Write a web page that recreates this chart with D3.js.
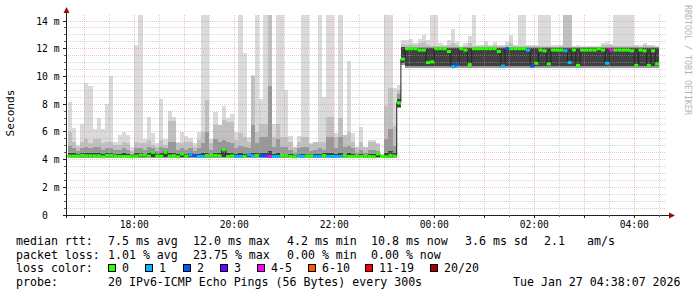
<!DOCTYPE html>
<html><head><meta charset="utf-8">
<script src="https://cdn.jsdelivr.net/npm/d3@7"></script>
<style>
body{margin:0;background:#fff}
svg text{font-family:"DejaVu Sans Mono",monospace;white-space:pre;fill:#000}
</style>
</head><body>
<svg id="chart" width="697" height="297"></svg>
<script>
// ---- data (5-minute RRD steps, first step starts 16:40) ----
const rangeStart = Date.UTC(2026,0,26,16,38,7);
const rangeEnd   = Date.UTC(2026,0,27,4,38,7);
const firstStep  = Date.UTC(2026,0,26,16,40,0);
const stepMs = 300000;

const median = [4.25,4.25,4.25,4.3,4.27,4.27,4.27,4.27,4.2,4.3,
 4.3,4.25,4.22,4.22,4.22,4.2,4.25,4.32,4.32,4.25,
 4.52,4.25,4.25,4.52,4.25,4.28,4.2,4.4,4.25,4.35,
 4.3,4.22,4.22,4.3,4.3,4.3,4.27,4.7,4.22,4.27,
 4.22,4.22,4.22,4.35,4.27,4.3,4.27,4.27,4.22,4.22,
 4.22,4.3,4.3,4.22,4.2,4.27,4.22,4.27,4.27,4.22,
 4.22,4.3,4.22,4.22,4.22,4.22,4.3,4.22,4.22,4.22,
 4.22,4.22,4.22,4.2,4.4,4.22,4.2,4.3,4.25,8.1,
 11.25,12.0,12.0,12.0,11.9,11.9,11.0,11.05,12.0,12.0,
 12.0,11.8,10.7,10.85,12.0,11.9,10.85,12.0,12.0,12.0,
 12.0,12.0,12.0,11.8,10.75,12.0,12.0,12.0,12.0,12.0,
 11.9,10.75,10.95,11.9,11.85,10.9,11.9,11.9,11.9,11.85,
 11.0,11.9,10.8,11.9,11.9,11.9,11.9,12.0,11.9,10.95,
 11.9,11.9,11.9,11.9,11.9,11.85,10.8,11.9,11.85,10.8,
 11.85,10.9];

const lossCount = [0,0,0,0,0,0,0,0,0,0,
 0,0,0,0,0,0,0,0,0,0,
 0,0,0,0,0,0,0,0,0,1,
 2,1,1,0,0,0,0,0,0,0,
 1,1,0,1,1,0,2,2,4,1,
 1,0,0,0,0,1,1,0,0,1,
 1,0,1,1,1,1,0,0,0,0,
 0,0,0,0,0,0,0,0,0,0,
 0,0,0,0,0,0,0,0,0,0,
 0,0,1,2,0,0,0,0,0,0,
 0,0,0,0,1,2,0,0,0,0,
 1,2,0,0,0,0,0,0,0,1,
 1,0,0,0,0,0,0,0,0,1,
 4,0,0,0,0,0,0,0,0,0,
 0,0];

const pingMax = [8.15,6.3,5.05,6.6,9.5,9.3,6.2,7.0,6.2,8.0,
 10.0,5.25,5.8,6.0,5.8,4.9,12.3,14.5,5.5,7.1,
 5.9,5.2,8.4,5.5,7.5,7.1,5.3,6.0,5.7,5.55,
 5.2,6.0,14.5,14.5,5.5,7.4,6.5,7.9,7.0,7.3,
 6.0,14.5,11.7,5.65,10.1,14.5,8.4,14.5,14.5,6.6,
 14.5,14.5,9.0,5.7,4.9,5.7,14.5,14.5,5.2,5.3,
 14.5,8.5,14.5,14.5,5.9,14.5,5.8,11.1,5.9,4.9,
 6.35,4.9,5.4,5.4,5.2,4.4,14.5,14.5,9.2,9.4,
 12.6,12.6,12.7,12.4,12.7,13.0,12.6,14.5,14.5,12.4,
 12.3,12.6,13.4,12.5,12.2,12.4,12.9,14.5,12.3,12.3,
 12.55,12.3,12.45,12.3,12.3,12.5,13.0,12.3,14.5,14.5,
 12.3,12.3,12.3,14.5,14.5,14.5,12.25,12.25,12.3,14.5,
 14.5,12.2,12.25,12.2,12.2,12.2,12.2,12.2,12.4,12.45,
 12.35,14.5,14.5,14.5,14.5,14.5,12.3,12.25,12.4,12.3,
 12.3,12.2];

const grayMid = [6.0,5.3,4.9,5.3,5.5,5.2,5.5,5.5,5.2,5.3,
 5.3,5.05,5.05,5.3,5.2,4.6,5.3,5.2,5.2,5.4,
 5.05,4.9,5.4,5.05,6.8,6.8,5.2,5.2,5.25,5.25,
 4.9,5.4,6.0,8.3,5.2,6.5,6.5,6.85,6.7,6.7,
 5.4,5.9,5.6,5.3,10.0,6.0,6.6,6.6,14.5,5.65,
 6.6,5.65,5.65,5.3,4.9,5.3,5.65,5.65,5.1,5.3,
 5.3,5.3,7.1,7.1,5.65,7.0,5.8,6.0,5.3,4.9,
 5.3,4.9,5.3,5.3,5.1,4.35,7.9,9.15,6.4,9.0,
 12.35,12.3,12.35,12.3,12.4,12.5,12.3,12.2,12.2,12.2,
 12.2,12.3,12.4,12.3,12.15,12.2,12.4,12.2,12.2,12.2,
 12.3,12.2,12.3,12.2,12.2,12.3,12.4,12.2,12.2,12.2,
 12.2,12.2,12.2,12.2,12.2,12.2,12.15,12.15,12.2,14.5,
 14.5,12.15,12.15,12.15,12.15,12.15,12.15,12.15,12.3,12.3,
 12.3,12.2,12.2,12.2,12.2,12.2,12.2,12.15,12.3,12.2,
 12.2,12.15];

const grayDark = [5.0,4.8,4.6,4.8,4.9,4.8,4.9,4.9,4.7,4.8,
 4.8,4.7,4.7,4.8,4.7,4.4,4.8,4.8,4.7,4.9,
 4.8,4.6,4.9,4.8,5.3,5.3,4.7,4.8,4.7,4.8,
 4.6,4.8,5.2,6.0,4.7,5.5,5.3,5.4,5.3,5.2,
 4.8,5.0,4.9,4.8,6.5,5.2,5.6,5.6,9.3,4.9,
 5.5,4.9,4.9,4.7,4.5,4.8,4.9,4.9,4.6,4.7,
 4.8,4.7,5.6,5.6,4.8,5.6,4.9,5.0,4.8,4.5,
 4.7,4.5,4.7,4.7,4.6,4.3,5.5,6.2,5.0,8.7,
 12.15,12.1,12.1,12.1,12.1,12.1,12.1,12.1,12.1,12.1,
 12.1,12.1,12.1,12.1,12.1,12.1,12.1,12.1,12.1,12.1,
 12.1,12.1,12.1,12.1,12.1,12.1,12.1,12.1,12.1,12.1,
 12.1,12.1,12.1,12.1,12.1,12.1,12.1,12.1,12.1,12.1,
 12.1,12.1,12.1,12.1,12.1,12.1,12.1,12.1,12.1,12.1,
 12.1,12.1,12.1,12.1,12.1,12.1,12.1,12.1,12.1,12.1,
 12.1,12.1];

const coreHi = [4.45,4.45,4.4,4.45,4.45,4.45,4.45,4.45,4.4,4.45,
 4.45,4.4,4.4,4.45,4.4,4.3,4.45,4.45,4.4,4.45,
 4.6,4.4,4.45,4.6,4.5,4.5,4.4,4.5,4.4,4.45,
 4.4,4.4,4.45,4.5,4.4,4.5,4.45,4.75,4.45,4.45,
 4.4,4.45,4.4,4.45,4.5,4.45,4.5,4.5,4.6,4.4,
 4.45,4.4,4.4,4.4,4.3,4.4,4.4,4.4,4.4,4.4,
 4.4,4.45,4.45,4.45,4.4,4.45,4.4,4.45,4.4,4.3,
 4.4,4.3,4.4,4.4,4.45,4.25,4.5,4.6,4.45,8.4,
 12.1,12.05,12.05,12.05,12.05,12.05,12.05,12.05,12.05,12.05,
 12.05,12.05,12.05,12.05,12.05,12.05,12.05,12.05,12.05,12.05,
 12.05,12.05,12.05,12.05,12.05,12.05,12.05,12.05,12.05,12.05,
 12.05,12.05,12.05,12.05,12.05,12.05,12.05,12.05,12.05,12.05,
 12.05,12.05,12.05,12.05,12.05,12.05,12.05,12.05,12.05,12.05,
 12.05,12.05,12.05,12.05,12.05,12.05,12.05,12.05,12.05,12.05,
 12.05,12.05];

const coreLo = [4.15,4.15,4.15,4.15,4.15,4.15,4.15,4.15,4.15,4.15,
 4.15,4.15,4.15,4.15,4.15,4.15,4.15,4.15,4.15,4.15,
 4.15,4.15,4.15,4.15,4.15,4.15,4.15,4.15,4.15,4.15,
 4.15,4.15,4.15,4.15,4.15,4.15,4.15,4.15,4.15,4.15,
 4.15,4.15,4.15,4.15,4.15,4.15,4.15,4.15,4.15,4.15,
 4.15,4.15,4.15,4.15,4.15,4.15,4.15,4.15,4.15,4.15,
 4.15,4.15,4.15,4.15,4.15,4.15,4.15,4.15,4.15,4.15,
 4.15,4.15,4.15,4.15,4.15,4.15,4.15,4.15,4.15,7.8,
 10.95,10.75,10.75,10.75,10.75,10.75,10.75,10.75,10.75,10.75,
 10.75,10.75,10.75,10.75,10.75,10.75,10.75,10.75,10.75,10.75,
 10.75,10.75,10.75,10.75,10.75,10.75,10.75,10.75,10.75,10.75,
 10.75,10.75,10.75,10.75,10.75,10.75,10.75,10.75,10.75,10.75,
 10.75,10.75,10.75,10.75,10.75,10.75,10.75,10.75,10.75,10.75,
 10.75,10.75,10.75,10.75,10.75,10.75,10.75,10.75,10.75,10.75,
 10.75,10.75];

const pingMin = [4.1,4.1,4.1,4.1,4.1,4.1,4.1,4.1,4.1,4.1,
 4.1,4.1,4.1,4.1,4.1,4.1,4.1,4.1,4.1,4.1,
 4.1,4.1,4.1,4.1,4.1,4.1,4.1,4.1,4.1,4.1,
 4.1,4.1,4.1,4.1,4.1,4.1,4.1,4.1,4.1,4.1,
 4.1,4.1,4.1,4.1,4.1,4.1,4.1,4.1,4.1,4.1,
 4.1,4.1,4.1,4.1,4.1,4.1,4.1,4.1,4.1,4.1,
 4.1,4.1,4.1,4.1,4.1,4.1,4.1,4.1,4.1,4.1,
 4.1,4.1,4.1,4.1,4.1,4.1,4.1,4.1,4.1,7.7,
 10.8,10.6,10.6,10.6,10.6,10.6,10.6,10.6,10.6,10.6,
 10.6,10.6,10.6,10.6,10.6,10.6,10.6,10.6,10.6,10.6,
 10.6,10.6,10.6,10.6,10.6,10.6,10.6,10.6,10.6,10.6,
 10.6,10.6,10.6,10.6,10.6,10.6,10.6,10.6,10.6,10.6,
 10.6,10.6,10.6,10.6,10.6,10.6,10.6,10.6,10.6,10.6,
 10.6,10.6,10.6,10.6,10.6,10.6,10.6,10.6,10.6,10.6,
 10.6,10.6];

const yTickValues = [0,2,4,6,8,10,12,14];
const yTickLabels = ["0  ","2 m","4 m","6 m","8 m","10 m","12 m","14 m"];
const lossLabels = ["0","1","2","3","4-5","6-10","11-19","20/20"];
const lossColors = ["#26ff00","#00b8ff","#0059ff","#6a00ff","#ff00ff","#ff5500","#ff0000","#a10000"];
const legendRtt  = ["7.5 ms avg","12.0 ms max","4.2 ms min","10.8 ms now","3.6 ms sd","2.1","am/s"];
const legendLoss = ["1.01 % avg","23.75 % max","0.00 % min","0.00 % now"];
const probeText = "20 IPv6-ICMP Echo Pings (56 Bytes) every 300s";
const stampText = "Tue Jan 27 04:38:07 2026";

// ---- layout ----
const svg = d3.select("#chart");
const X0 = 66, X1 = 666, Y0 = 215, Y1 = 15;
const x = d3.scaleUtc().domain([rangeStart, rangeEnd]).range([X0, X1]);
const y = d3.scaleLinear().domain([0, 200/13.857]).range([Y0, Y1]);
const crisp = v => Math.floor(v) + 0.5;

svg.append("rect").attr("width",697).attr("height",297).attr("fill","#ffffff");
svg.append("clipPath").attr("id","plot").append("rect")
  .attr("x",X0).attr("y",Y1).attr("width",X1-X0).attr("height",Y0-Y1);

const steps = median.map((m,i)=>({
  t0: firstStep + i*stepMs, t1: firstStep + (i+1)*stepMs,
  m, loss: lossCount[i], max: pingMax[i], mid: grayMid[i], dark: grayDark[i],
  hi: coreHi[i], lo: coreLo[i], min: pingMin[i]
}));

const g = svg.append("g").attr("clip-path","url(#plot)").attr("shape-rendering","crispEdges");
function band(top, bottom, color){
  g.append("g").selectAll("rect").data(steps).join("rect")
    .attr("x", d=>Math.round(x(d.t0)))
    .attr("width", d=>Math.round(x(d.t1))-Math.round(x(d.t0)))
    .attr("y", d=>Math.round(y(top(d))))
    .attr("height", d=>Math.max(0, Math.round(y(bottom(d)))-Math.round(y(top(d)))))
    .attr("fill", color);
}
band(d=>d.max, d=>d.min, "#dadada");
band(d=>d.mid, d=>d.min, "#c0c0c0");
band(d=>d.dark, d=>d.min, "#989898");
band(d=>d.hi, d=>d.lo, "#404040");

// ---- grid ----
const grid = svg.append("g").attr("shape-rendering","crispEdges");
const minorY = d3.range(1, 29).map(k=>k*0.5).filter(v=>v%2!==0);
grid.selectAll(".hy").data(minorY).join("line")
  .attr("x1",X0).attr("x2",X1).attr("y1",d=>crisp(y(d))).attr("y2",d=>crisp(y(d)))
  .attr("stroke","rgba(170,170,170,0.5)").attr("stroke-dasharray","1,1");
grid.selectAll(".hY").data(yTickValues.slice(1)).join("line")
  .attr("x1",X0).attr("x2",X1).attr("y1",d=>crisp(y(d))).attr("y2",d=>crisp(y(d)))
  .attr("stroke","rgba(235,120,120,0.45)").attr("stroke-dasharray","1,1");
const halfHours = d3.utcMinute.every(30).range(new Date(rangeStart), new Date(rangeEnd));
const minorX = halfHours.filter(t=>t.getUTCMinutes()!==0);
const hours = d3.utcHour.every(1).range(new Date(rangeStart), new Date(rangeEnd));
grid.selectAll(".vx").data(minorX).join("line")
  .attr("x1",d=>crisp(x(d))).attr("x2",d=>crisp(x(d))).attr("y1",Y1).attr("y2",Y0)
  .attr("stroke","rgba(170,170,170,0.5)").attr("stroke-dasharray","1,1");
grid.selectAll(".vX").data(hours).join("line")
  .attr("x1",d=>crisp(x(d))).attr("x2",d=>crisp(x(d))).attr("y1",Y1).attr("y2",Y0)
  .attr("stroke","rgba(235,120,120,0.45)").attr("stroke-dasharray","1,1");

// median: thin dark step line, then loss-coloured segments
const pts = steps.map(d=>[x(d.t0), y(d.m)]);
pts.push([x(steps[steps.length-1].t1), y(steps[steps.length-1].m)]);
svg.append("path").attr("clip-path","url(#plot)")
  .attr("d", d3.line().curve(d3.curveStepAfter)(pts))
  .attr("fill","none").attr("stroke","#202020").attr("stroke-width",1);

function lossIndex(c){ if(c<=3) return c; if(c<=5) return 4; if(c<=10) return 5; if(c<20) return 6; return 7; }
svg.append("g").attr("clip-path","url(#plot)").selectAll("line").data(steps).join("line")
  .attr("x1", d=>x(d.t0)).attr("x2", d=>x(d.t1))
  .attr("y1", d=>y(d.m)).attr("y2", d=>y(d.m))
  .attr("stroke", d=>lossColors[lossIndex(d.loss)]).attr("stroke-width",3);

// ---- axes ----
const ax = svg.append("g").attr("shape-rendering","crispEdges");
ax.append("line").attr("x1",X0-3).attr("x2",X1+4).attr("y1",Y0+0.5).attr("y2",Y0+0.5).attr("stroke","#202020");
ax.append("line").attr("x1",X0+0.5).attr("x2",X0+0.5).attr("y1",Y0+3).attr("y2",Y1-4).attr("stroke","#202020");
ax.selectAll(".tx").data(hours).join("line")
  .attr("x1",d=>crisp(x(d))).attr("x2",d=>crisp(x(d))).attr("y1",Y0).attr("y2",Y0+3).attr("stroke","#202020");
ax.selectAll(".tx2").data(minorX).join("line")
  .attr("x1",d=>crisp(x(d))).attr("x2",d=>crisp(x(d))).attr("y1",Y0).attr("y2",Y0+2).attr("stroke","#606060");
ax.selectAll(".ty").data(yTickValues).join("line")
  .attr("x1",X0-3).attr("x2",X0).attr("y1",d=>crisp(y(d))).attr("y2",d=>crisp(y(d))).attr("stroke","#202020");
ax.selectAll(".ty2").data(minorY).join("line")
  .attr("x1",X0-2).attr("x2",X0).attr("y1",d=>crisp(y(d))).attr("y2",d=>crisp(y(d))).attr("stroke","#606060");
// arrows
svg.append("path").attr("d",`M${X0-2.5},${Y1-2} L${X0+3.5},${Y1-2} L${X0+0.5},${Y1-8} Z`).attr("fill","#8b1010");
svg.append("path").attr("d",`M${X1+3},${Y0-2.5} L${X1+3},${Y0+3.5} L${X1+9},${Y0+0.5} Z`).attr("fill","#8b1010");

// tick labels
const fmt = d3.utcFormat("%H:%M");
svg.selectAll(".xl").data(d3.utcHour.every(2).range(new Date(rangeStart), new Date(rangeEnd))).join("text")
  .attr("x",d=>x(d)).attr("y",228).attr("text-anchor","middle").attr("font-size","9.7px").text(d=>fmt(d));
svg.selectAll(".yl").data(yTickValues).join("text")
  .attr("x",59.5).attr("y",d=>y(d)+3.5).attr("text-anchor","end").attr("font-size","9.7px")
  .text((d,i)=>yTickLabels[i]);

svg.append("text").attr("transform","translate(14,113) rotate(-90)").attr("text-anchor","middle")
  .attr("font-size","11.1px").text("Seconds");
svg.append("text").attr("transform","translate(685,5) rotate(90)").attr("text-anchor","start")
  .attr("font-size","8.3px").style("fill","#b4b4b4").text("RRDTOOL / TOBI OETIKER");

// ---- legend ----
const LF = "11.6px";
const rttX = [108,193,287,371,465,544,587];
const lossX = [108,193,287,371];
const boxX = [108,145,183,220,257,308,365,430];
function txt(xp, yp, s){ svg.append("text").attr("x",xp).attr("y",yp).attr("font-size",LF).text(s); }
txt(16,245,"median rtt:");
legendRtt.forEach((s,i)=>txt(rttX[i],245,s));
txt(16,258.5,"packet loss:");
legendLoss.forEach((s,i)=>txt(lossX[i],258.5,s));
txt(16,272,"loss color:");
lossLabels.forEach((s,i)=>{
  svg.append("rect").attr("x",boxX[i]+0.5).attr("y",264.5).attr("width",7).attr("height",7)
    .attr("fill",lossColors[i]).attr("stroke","#000").attr("shape-rendering","crispEdges");
  txt(boxX[i]+14,272,s);
});
txt(16,285.5,"probe:");
txt(108,285.5,probeText);
txt(513,285.5,stampText);
</script>
</body></html>
